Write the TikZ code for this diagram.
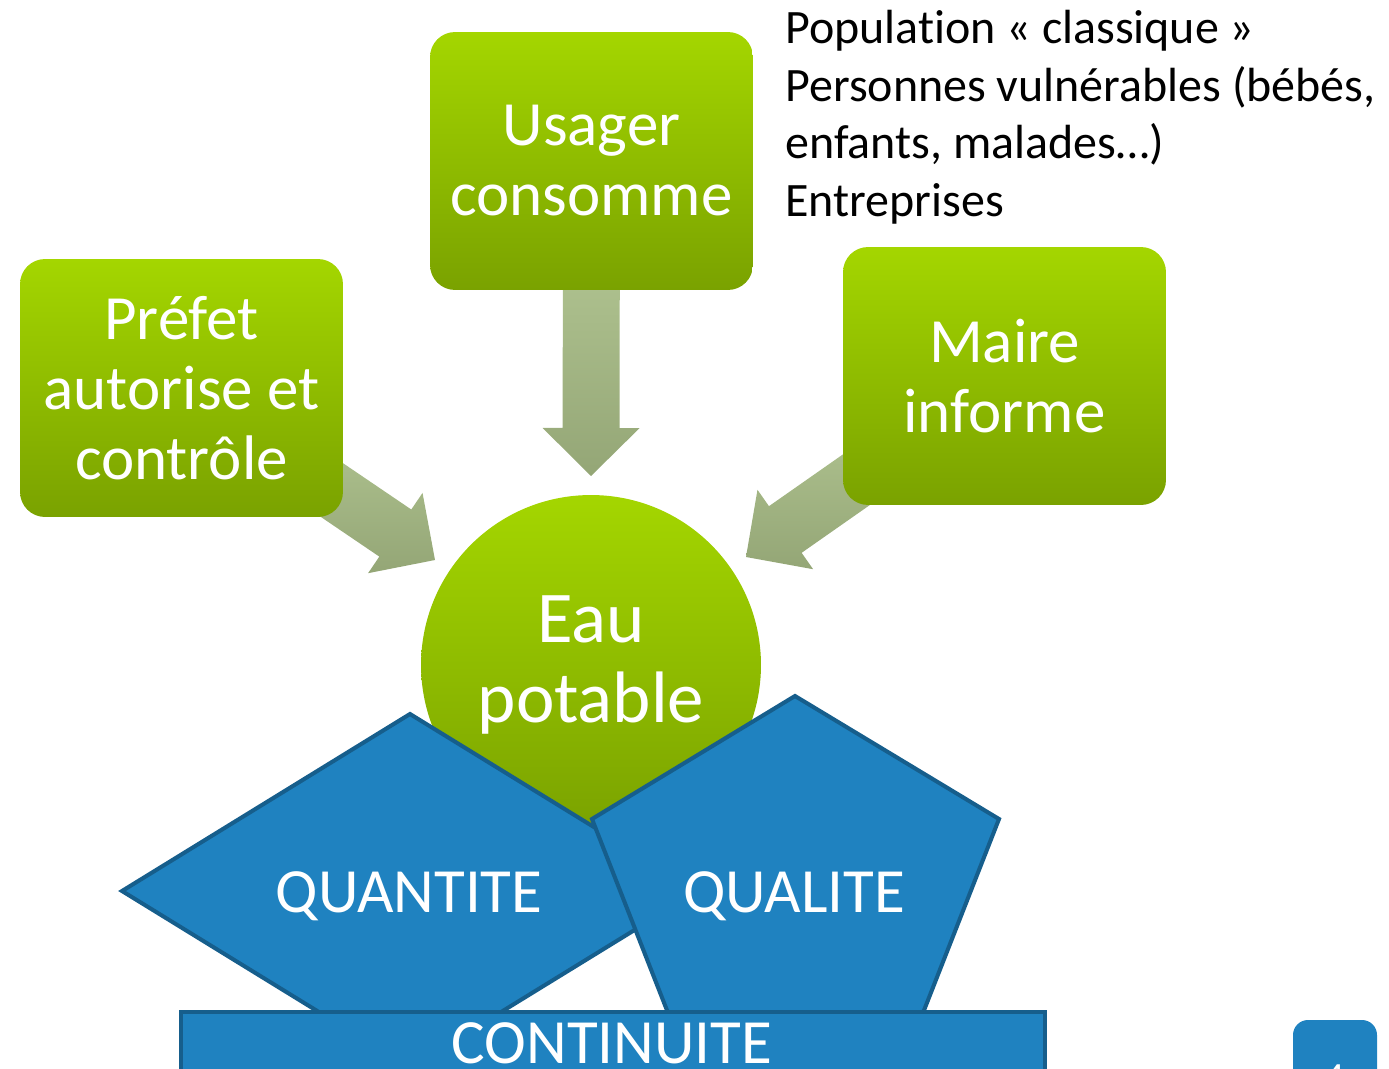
\documentclass[tikz,border=0pt]{standalone}
\usepackage{fontspec}
\setmainfont{Carlito}[Ligatures=NoCommon]
\usetikzlibrary{calc, backgrounds}

\definecolor{leaftop}{RGB}{164,214,0}
\definecolor{leafbot}{RGB}{122,162,0}
\definecolor{sagetop}{RGB}{188,208,156}
\definecolor{sagebot}{RGB}{148,166,118}
\definecolor{seablue}{RGB}{31,130,192}
\definecolor{seaedge}{RGB}{22,94,140}

\tikzset{
  actor/.style={rounded corners=0.5cm, minimum width=6.46cm, minimum height=5.16cm,
    inner sep=0pt, top color=leaftop, bottom color=leafbot, text=white, align=center,
    font=\fontsize{35.85}{39.83}\selectfont},
  water/.style={circle, minimum size=6.8cm, inner sep=0pt, top color=leaftop,
    bottom color=leafbot, text=white, align=center, font=\fontsize{41.5}{45.5}\selectfont},
  block/.style={fill=seablue, draw=seaedge, line width=2.3pt},
  blocktext/.style={text=white, inner sep=0pt, font=\fontsize{35.85}{39.83}\selectfont},
  note/.style={inner sep=0pt, align=left, font=\fontsize{27.3}{32.7}\selectfont},
}

% wide shaded arrow from #1 with its point at #2
\newcommand{\bigarrow}[2]{%
  \shade[top color=sagetop, bottom color=sagebot]
    let \p1 = ($(#2)-(#1)$), \n1 = {atan2(\y1,\x1)}, \n2 = {veclen(\x1,\y1)-27.3} in
    ($(#1)+(\n1+90:16.2pt)$) -- ++(\n1:\n2) -- ++(\n1+90:11.4pt) -- (#2)
    -- ($(#1)+(\n1:\n2)+(\n1-90:27.6pt)$) -- ++(\n1+90:11.4pt)
    -- ($(#1)+(\n1-90:16.2pt)$) -- cycle;
}

\begin{document}
\begin{tikzpicture}[x=0.02cm, y=-0.02cm]

    \useasboundingbox (0,0) rectangle (1389,1068);
    \clip (0,0) rectangle (1389,1068);

    % who acts on drinking water
    \node[actor] (usager) at (591.5,161) {Usager\\consomme};
    \node[actor] (prefet) at (181.5,388) {Préfet\\autorise et\\contrôle};
    \node[actor] (maire) at (1004.5,376) {Maire\\informe};
    \node[water] (eau) at (591,665) {Eau\\potable};

    \node[note, anchor=north west] (publics) at (785,10)
        {Population « classique »\\Personnes vulnérables (bébés,\\enfants, malades…)\\Entreprises};

    \coordinate (usagertip) at (591,476);
    \coordinate (prefettip) at (435,560);
    \coordinate (mairetip) at (746,557);

    \begin{scope}[on background layer]
        \bigarrow{usager.center}{usagertip}
        \bigarrow{prefet.center}{prefettip}
        \bigarrow{maire.center}{mairetip}
    \end{scope}

    % the three pillars
    \draw[block] (122,891) -- (410,714) -- (698,891) -- (410,1068) -- cycle;
    \node[blocktext] (quantite) at (409,896) {QUANTITE};

    \draw[block] (795,696) -- (999,819) -- (921,1018) -- (670,1018) -- (592,819) -- cycle;
    \node[blocktext] (qualite) at (794,896) {QUALITE};

    \draw[block] (181,1012) rectangle (1045,1110);
    \node[blocktext, anchor=base] (continuite) at (612,1063) {CONTINUITE};

    % slide number
    \fill[seablue, rounded corners=0.3cm] (1293,1020) rectangle (1377,1130);
    \node[blocktext, font=\fontsize{22.8}{26}\selectfont, anchor=base] (page) at (1335,1090) {4};

\end{tikzpicture}
\end{document}
